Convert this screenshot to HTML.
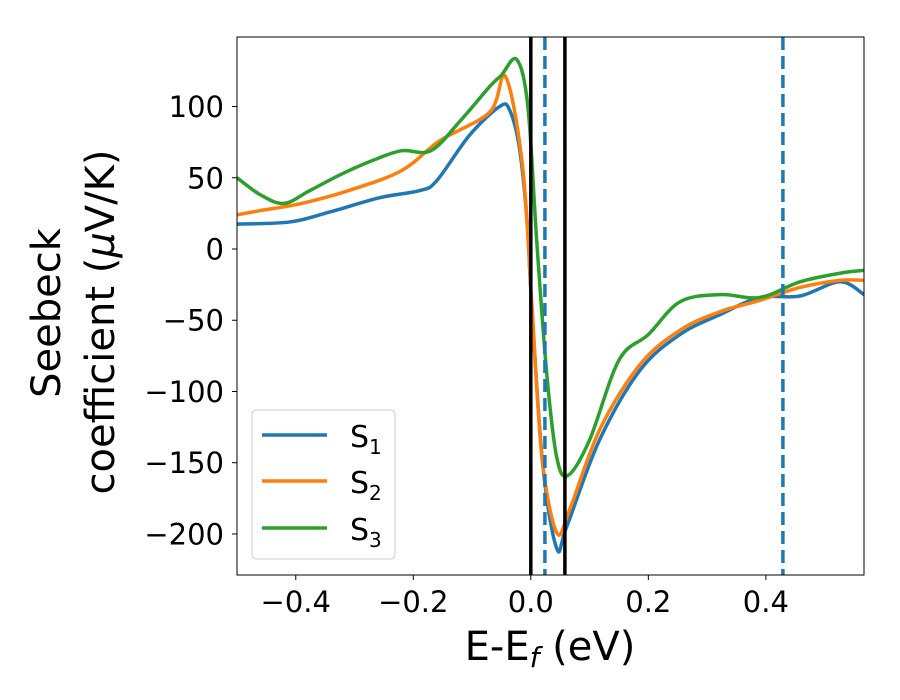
<!DOCTYPE html>
<html><head><meta charset="utf-8"><style>
html,body{margin:0;padding:0;background:#fff;}
svg{display:block;font-family:"DejaVu Sans","Liberation Sans",sans-serif;}
</style></head><body>
<svg id="chart" width="900" height="700" viewBox="0 0 900 700">
<defs><clipPath id="clip"><rect x="237" y="37" width="627" height="538"/></clipPath></defs>
<g id="series-layer" clip-path="url(#clip)"></g>
<rect x="237" y="37" width="627" height="538" fill="none" stroke="#000" stroke-width="1"/>
<g id="ticks-layer"></g>
<text x="550" y="660" font-size="40" text-anchor="middle">E-E<tspan font-style="italic" font-size="28" dy="7">f</tspan><tspan dy="-7"> (eV)</tspan></text>
<text transform="translate(60,313) rotate(-90)" font-size="40" text-anchor="middle">Seebeck</text>
<text transform="translate(114,322) rotate(-90)" font-size="40" text-anchor="middle">coefficient  (<tspan font-style="italic">μ</tspan>V/K)</text>
<g>
<rect x="252" y="410" width="143" height="149" rx="4" fill="#fff" fill-opacity="0.8" stroke="#ccc" stroke-width="1"/>
<line x1="262" y1="435" x2="327" y2="435" stroke="#1f77b4" stroke-width="3.5"/>
<text x="350" y="447" font-size="30">S<tspan font-size="20" dy="7">1</tspan></text>
<line x1="262" y1="481" x2="327" y2="481" stroke="#ff7f0e" stroke-width="3.5"/>
<text x="350" y="493" font-size="30">S<tspan font-size="20" dy="7">2</tspan></text>
<line x1="262" y1="528" x2="327" y2="528" stroke="#2ca02c" stroke-width="3.5"/>
<text x="350" y="540" font-size="30">S<tspan font-size="20" dy="7">3</tspan></text>
</g>
</svg>
<script>
const xTicks=[-0.4,-0.2,0.0,0.2,0.4];
const xTickLabels=["−0.4","−0.2","0.0","0.2","0.4"];
const yTicks=[100,50,0,-50,-100,-150,-200];
const yTickLabels=["100","50","0","−50","−100","−150","−200"];
const blackLines=[0.0,0.058];
const dashedLines=[0.024,0.429];
const s1X=[-0.5,-0.41,-0.342,-0.257,-0.189,-0.16,-0.104,-0.053,-0.036,-0.019,-0.005,0.0,0.02,0.044,0.061,0.117,0.186,0.254,0.322,0.39,0.458,0.526,0.567];
const s1Y=[17.5,19,26,36,41,48,80,100,97.5,70,13,-29,-150,-210,-195,-134,-85,-60,-46,-34,-33,-23,-32];
const s2X=[-0.5,-0.46,-0.39,-0.31,-0.22,-0.155,-0.07,-0.043,-0.014,0.002,0.019,0.044,0.066,0.117,0.186,0.254,0.322,0.39,0.458,0.526,0.567];
const s2Y=[24,27,32,41,55,76,96,121,58,-41,-146,-199,-183,-127,-81,-57,-44,-36,-27,-22,-22];
const s3X=[-0.5,-0.46,-0.42,-0.376,-0.325,-0.27,-0.22,-0.17,-0.12,-0.07,-0.05,-0.024,-0.005,0.01,0.027,0.044,0.063,0.1,0.15,0.2,0.254,0.322,0.39,0.458,0.526,0.567];
const s3Y=[50,38,32,41,52,62,69,69,90,114,122,133,100,6,-87,-146,-159,-134,-78,-60,-37,-32,-34,-23,-17,-15];
const X0=-0.5,X1=0.567,Y0=-228.8,Y1=148.8;
const L=237,R=864,T=37,B=575;
const sx=v=>L+(v-X0)/(X1-X0)*(R-L);
const sy=v=>B-(v-Y0)/(Y1-Y0)*(B-T);
const NS="http://www.w3.org/2000/svg";
function mk(tag,attrs,parent){const e=document.createElementNS(NS,tag);for(const k in attrs)e.setAttribute(k,attrs[k]);parent.appendChild(e);return e;}
const series=document.getElementById('series-layer');
const ticks=document.getElementById('ticks-layer');
function smooth(xs,ys){const p=xs.map((x,i)=>[sx(x),sy(ys[i])]);let d=`M${p[0][0]},${p[0][1]}`;
for(let i=0;i<p.length-1;i++){const p0=p[Math.max(0,i-1)],p1=p[i],p2=p[i+1],p3=p[Math.min(p.length-1,i+2)];
const t=1/6;d+=` C${p1[0]+(p2[0]-p0[0])*t},${p1[1]+(p2[1]-p0[1])*t} ${p2[0]-(p3[0]-p1[0])*t},${p2[1]-(p3[1]-p1[1])*t} ${p2[0]},${p2[1]}`;}return d;}
const defs=[[s1X,s1Y,'#1f77b4','series-s1'],[s2X,s2Y,'#ff7f0e','series-s2'],[s3X,s3Y,'#2ca02c','series-s3']];
defs.forEach(([xs,ys,c,n])=>{const e=mk('path',{d:smooth(xs,ys),fill:'none',stroke:c,'stroke-width':3.5,'stroke-linejoin':'round'},series);

});
blackLines.forEach((v,i)=>{const e=mk('line',{x1:sx(v),x2:sx(v),y1:T,y2:B,stroke:'#000','stroke-width':3.5},series);

});
dashedLines.forEach((v,i)=>{const e=mk('line',{x1:sx(v),x2:sx(v),y1:T,y2:B,stroke:'#1f77b4','stroke-width':3.5,'stroke-dasharray':'13,6'},series);

});
xTicks.forEach((v,i)=>{const x=sx(v);mk('line',{x1:x,x2:x,y1:B,y2:B+5,stroke:'#000'},ticks);
const t=mk('text',{x:x,y:612,'font-size':29,'text-anchor':'middle'},ticks);t.textContent=xTickLabels[i];

});
yTicks.forEach((v,i)=>{const y=sy(v);mk('line',{x1:L-5,x2:L,y1:y,y2:y,stroke:'#000'},ticks);
const t=mk('text',{x:L-13,y:y+10.5,'font-size':29,'text-anchor':'end'},ticks);t.textContent=yTickLabels[i];

});
</script>
</body></html>
